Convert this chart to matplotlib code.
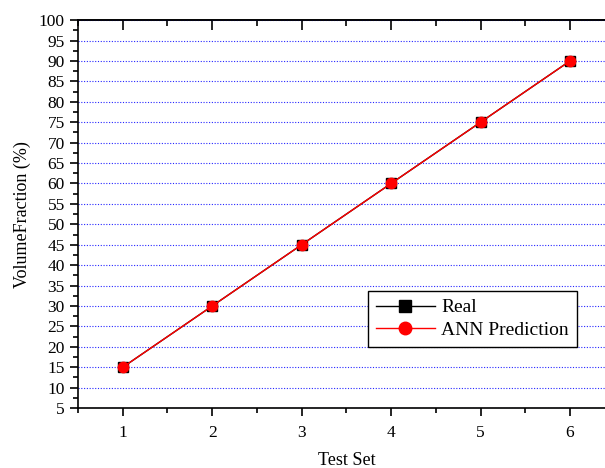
import matplotlib
matplotlib.use("Agg")
import matplotlib.pyplot as plt
from matplotlib.ticker import MultipleLocator

# ── Data ──────────────────────────────────────────────────────────────────────
test_set  = [1, 2, 3, 4, 5, 6]
real      = [15, 30, 45, 60, 75, 90]
ann_pred  = [15, 30, 45, 60, 75, 90]

plt.rcParams["font.family"] = ["Liberation Serif", "DejaVu Serif"]
plt.rcParams["font.size"] = 12

fig = plt.figure(figsize=(6.05, 4.68), dpi=100)
ax = fig.add_axes([0.129, 0.128, 0.887, 0.829])

ax.plot(test_set, real, color="black", marker="s", markersize=7.5,
        linewidth=1, label="Real")
ax.plot(test_set, ann_pred, color="red", marker="o", markersize=7.5,
        linewidth=1, label="ANN Prediction")

ax.set_xlim(0.5, 6.5)
ax.set_ylim(5, 100)
ax.xaxis.set_major_locator(MultipleLocator(1))
ax.xaxis.set_minor_locator(MultipleLocator(0.5))
ax.yaxis.set_major_locator(MultipleLocator(5))
ax.yaxis.set_minor_locator(MultipleLocator(2.5))

ax.grid(True, axis="y", which="major", color="blue", linestyle=(0, (1, 1.5)),
        linewidth=0.8, alpha=0.85)
ax.set_axisbelow(True)

ax.spines["right"].set_visible(False)
for s in ["left", "bottom", "top"]:
    ax.spines[s].set_linewidth(1.2)

ax.tick_params(axis="both", which="major", direction="out", length=6,
               width=1.2, labelsize=12.5)
ax.tick_params(axis="both", which="minor", direction="out", length=3.5,
               width=1.2)
ax.tick_params(axis="x", which="both", pad=6)

# top axis: ticks pointing down into the plot, no labels
top = ax.secondary_xaxis("top")
top.xaxis.set_major_locator(MultipleLocator(1))
top.xaxis.set_minor_locator(MultipleLocator(0.5))
top.tick_params(axis="x", which="major", direction="in", length=7, width=1.2,
                labeltop=False)
top.tick_params(axis="x", which="minor", direction="in", length=4, width=1.2)
top.spines["top"].set_linewidth(1.2)

ax.set_xlabel("Test Set", fontsize=13, labelpad=8)
ax.set_ylabel("VolumeFraction (%)", fontsize=13, labelpad=6)

leg = ax.legend(loc="upper left", bbox_to_anchor=(0.523, 0.327),
                fancybox=False, framealpha=1, edgecolor="black",
                fontsize=14, handlelength=3.0, handletextpad=0.35,
                borderpad=0.4, labelspacing=0.25, markerscale=1.2)
leg.get_frame().set_linewidth(1.0)

fig.savefig("out.png", dpi=100)
